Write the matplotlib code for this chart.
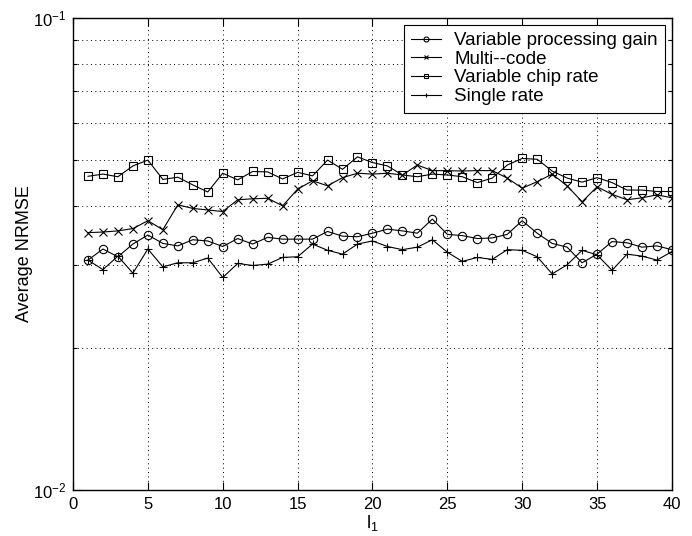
import numpy as np
import matplotlib
matplotlib.use("Agg")
import matplotlib.pyplot as plt
from matplotlib.ticker import LogLocator, NullFormatter

plt.rcParams["font.family"] = ["Liberation Sans", "DejaVu Sans"]
plt.rcParams["mathtext.fontset"] = "custom"
plt.rcParams["mathtext.rm"] = "Liberation Sans"
plt.rcParams["mathtext.it"] = "Liberation Sans:italic"

# x axis: l_1 = 1..40
l1 = np.arange(1, 41)

variable_processing_gain = [
    0.0307, 0.0324, 0.0312, 0.0332, 0.0347, 0.0333, 0.0329, 0.0339, 0.0337, 0.0328,
    0.0341, 0.0332, 0.0343, 0.0340, 0.0340, 0.0340, 0.0353, 0.0345, 0.0344, 0.0350,
    0.0357, 0.0354, 0.0350, 0.0375, 0.0348, 0.0346, 0.0341, 0.0342, 0.0348, 0.0372,
    0.0350, 0.0333, 0.0327, 0.0303, 0.0316, 0.0336, 0.0334, 0.0327, 0.0329, 0.0323,
]
multi_code = [
    0.0351, 0.0352, 0.0354, 0.0358, 0.0372, 0.0356, 0.0402, 0.0395, 0.0392, 0.0389,
    0.0412, 0.0414, 0.0415, 0.0400, 0.0434, 0.0452, 0.0441, 0.0459, 0.0469, 0.0467,
    0.0469, 0.0465, 0.0488, 0.0475, 0.0475, 0.0474, 0.0475, 0.0475, 0.0458, 0.0436,
    0.0450, 0.0467, 0.0441, 0.0408, 0.0439, 0.0423, 0.0412, 0.0416, 0.0422, 0.0416,
]
variable_chip_rate = [
    0.0462, 0.0467, 0.0461, 0.0486, 0.0500, 0.0455, 0.0460, 0.0443, 0.0428, 0.0469,
    0.0454, 0.0473, 0.0472, 0.0456, 0.0471, 0.0463, 0.0500, 0.0478, 0.0508, 0.0494,
    0.0486, 0.0465, 0.0461, 0.0467, 0.0465, 0.0461, 0.0448, 0.0458, 0.0488, 0.0504,
    0.0502, 0.0474, 0.0458, 0.0449, 0.0459, 0.0448, 0.0432, 0.0432, 0.0429, 0.0429,
]
single_rate = [
    0.0307, 0.0293, 0.0313, 0.0288, 0.0324, 0.0297, 0.0303, 0.0303, 0.0310, 0.0282,
    0.0302, 0.0299, 0.0301, 0.0311, 0.0312, 0.0332, 0.0322, 0.0316, 0.0332, 0.0337,
    0.0328, 0.0323, 0.0327, 0.0339, 0.0319, 0.0305, 0.0311, 0.0308, 0.0323, 0.0322,
    0.0312, 0.0287, 0.0300, 0.0322, 0.0315, 0.0292, 0.0316, 0.0313, 0.0307, 0.0320,
]

series = [
    ("Variable processing gain", variable_processing_gain, "o"),
    ("Multi--code", multi_code, "x"),
    ("Variable chip rate", variable_chip_rate, "s"),
    ("Single rate", single_rate, "+"),
]

fig = plt.figure(figsize=(6.92, 5.36), dpi=100)
ax = fig.add_axes([0.1055, 0.0858, 0.8655, 0.8806])

for label, values, marker in series:
    ax.plot(l1, values, color="black", lw=0.8, marker=marker, ms=6 if marker != "s" else 5.5,
            mfc="none", mec="black", mew=0.8, label=label)

ax.set_yscale("log")
ax.set_ylim(1e-2, 1e-1)
ax.set_xlim(0, 40)
ax.set_xticks(np.arange(0, 41, 5))
ax.yaxis.set_minor_locator(LogLocator(base=10, subs=np.arange(2, 10)))
ax.yaxis.set_minor_formatter(NullFormatter())

# sparse MATLAB-like dotted grid
grid_style = dict(linestyle=(0, (1, 3.5)), color="black", lw=0.7)
ax.grid(True, which="major", **grid_style)
ax.grid(True, which="minor", axis="y", **grid_style)

ax.tick_params(which="both", direction="in", top=True, right=True, labelsize=12, width=0.8)
ax.tick_params(which="major", length=6, pad=5)
ax.tick_params(which="minor", length=3)
for s in ax.spines.values():
    s.set_linewidth(1.0)

ax.set_xlabel(r"$\mathregular{l_1}$", fontsize=13, labelpad=1)
ax.set_ylabel("Average NRMSE", fontsize=13, labelpad=0)

leg = ax.legend(loc="upper right", fontsize=13.5, fancybox=False, edgecolor="black",
                framealpha=1, handlelength=1.6, markerscale=0.6, labelspacing=0.08,
                borderaxespad=0.35, borderpad=0.4, handletextpad=0.7)
leg.get_frame().set_linewidth(0.8)

fig.savefig("out.png", dpi=100)
